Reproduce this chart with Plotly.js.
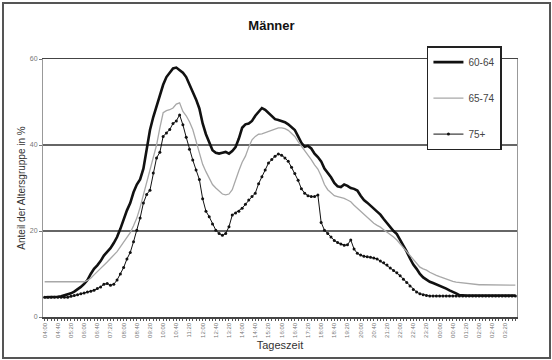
<!DOCTYPE html>
<html>
<head>
<meta charset="utf-8">
<script src="https://cdn.plot.ly/plotly-3.0.1.min.js"></script>
<style>
  html, body { margin: 0; padding: 0; background: #ffffff; }
  #wrap { position: relative; width: 552px; height: 360px; }
  #chart { position: absolute; left: 0; top: 0; width: 552px; height: 360px; }
  #frame { position: absolute; left: 2px; top: 2px; width: 545px; height: 353px; border: 2px solid #555; pointer-events: none; }
</style>
</head>
<body>
<div id="wrap"><div id="chart"></div><div id="frame"></div></div>
<script>
// Series names
const seriesNames = ["60-64", "65-74", "75+"];

// 60-64 (percent), 10-minute steps from 04:00
const men6064 = [
  4.6, 4.6, 4.6, 4.6, 4.7, 4.8, 5.0, 5.2, 5.5, 5.9,
  6.4, 7.0, 7.7, 8.6, 10.0, 11.2, 12.0, 13.0, 14.3, 15.2,
  16.0, 17.2, 18.6, 20.5, 22.8, 24.8, 26.5, 29.0, 30.8, 32.0,
  34.5, 39.0, 43.5, 46.5, 49.0, 51.5, 54.0, 55.8, 56.8, 57.8,
  58.0, 57.5, 56.8, 55.8, 54.2, 52.5, 50.6, 48.5, 45.0, 42.5,
  40.5, 38.8, 38.2, 38.0, 38.2, 38.4, 38.0, 38.6, 39.5, 41.5,
  44.0, 44.8, 45.0, 45.6, 46.8, 47.6, 48.6, 48.2, 47.4, 46.6,
  46.0, 45.8, 45.6, 45.3, 44.8, 44.2, 43.5, 42.0, 40.5, 39.6,
  39.8, 39.2, 38.0, 37.2, 36.2, 34.5, 33.5, 32.5, 31.2, 30.4,
  30.2, 30.8, 30.5, 30.0, 29.8, 29.4, 28.2, 27.2, 26.6, 25.8,
  25.2, 24.5, 23.8, 22.8, 21.8, 20.8, 20.0, 19.3, 18.0, 16.5,
  15.2, 13.6, 12.2, 11.2, 10.0, 9.2, 8.6, 8.2, 7.9, 7.6,
  7.3, 7.0, 6.6, 6.2, 5.9, 5.5, 5.1, 5.0, 5.0, 5.0,
  5.0, 5.0, 5.0, 5.0, 5.0, 5.0, 5.0, 5.0, 5.0, 5.0,
  5.0, 5.0, 5.0, 5.0
];

// 65-74 (percent)
const men6574 = [
  8.2, 8.2, 8.2, 8.2, 8.2, 8.2, 8.2, 8.2, 8.2, 8.2,
  8.2, 8.2, 8.2, 8.5, 9.0, 9.8, 10.5, 11.2, 12.0, 12.8,
  13.6, 14.4, 15.2, 16.3, 17.4, 18.4, 19.6, 21.2, 23.0, 25.5,
  28.5, 31.0, 34.0, 37.0, 40.0, 44.0, 47.5, 48.0, 48.2, 48.6,
  49.5, 49.8, 47.8, 46.8, 45.4, 43.6, 41.0, 38.0, 35.5, 33.8,
  32.2, 30.8, 30.0, 29.2, 28.6, 28.4, 28.6, 29.6, 32.0, 34.0,
  36.0, 37.4, 39.5, 41.2, 42.0, 42.5, 42.6, 42.9, 43.1, 43.4,
  43.7, 44.0, 44.0, 43.8, 43.4, 42.8, 42.0, 40.8, 39.8, 38.6,
  37.8, 36.6, 35.4, 34.4, 32.8, 30.8, 29.6, 29.0, 28.2, 28.0,
  27.8, 27.6, 27.2, 26.8, 26.0, 25.3, 24.6, 23.8, 23.0, 22.4,
  21.8, 21.3, 20.9, 20.3, 19.8, 19.2, 18.6, 17.9, 17.0, 16.0,
  15.2, 14.2, 13.2, 12.3, 11.6, 11.2, 10.9, 10.4, 10.0, 9.7,
  9.4, 9.1, 8.8, 8.5, 8.3, 8.1, 8.0, 7.9, 7.8, 7.7,
  7.6, 7.6, 7.5, 7.5, 7.5, 7.4, 7.4, 7.4, 7.4, 7.4,
  7.4, 7.4, 7.4, 7.4
];

// 75+ (percent)
const men75 = [
  4.6, 4.6, 4.6, 4.6, 4.6, 4.6, 4.6, 4.6, 4.8, 5.0,
  5.2, 5.4, 5.6, 5.8, 6.0, 6.2, 6.6, 7.0, 7.6, 7.8,
  7.4, 7.6, 8.6, 10.0, 11.5, 13.5, 15.0, 17.5, 20.2, 23.0,
  26.5, 28.5, 29.5, 33.5, 37.0, 38.3, 42.0, 42.8, 43.6, 45.0,
  45.6, 47.0, 44.7, 41.8, 39.0, 36.5, 34.2, 32.0, 27.5, 24.6,
  23.3, 21.6, 20.2, 19.4, 19.0, 19.4, 21.0, 23.7, 24.2, 24.6,
  25.3, 26.2, 27.2, 28.0, 28.8, 31.0, 32.6, 34.2, 35.8, 36.6,
  37.4, 37.9, 37.6, 37.0, 36.2, 34.8, 33.4, 31.8, 29.8, 28.8,
  28.2, 28.0, 28.0, 28.4, 22.0, 20.2, 19.4, 18.6, 17.8, 17.3,
  17.0, 16.7, 16.8, 17.9, 15.8, 14.8, 14.4, 14.1, 14.0, 13.9,
  13.7, 13.5, 13.0, 12.6, 12.1, 11.4, 10.8, 10.3, 9.6, 8.8,
  8.0, 7.2, 6.4, 5.8, 5.4, 5.2, 5.0, 4.9, 4.9, 4.9,
  4.9, 4.9, 4.9, 4.9, 4.9, 4.9, 4.9, 4.9, 4.9, 4.9,
  4.9, 4.9, 4.9, 4.9, 4.9, 4.9, 4.9, 4.9, 4.9, 4.9,
  4.9, 4.9, 4.9, 4.9
];

// Category labels: time of day, 10-minute steps starting 04:00
const times = [];
for (let k = 0; k < men6064.length; k++) {
  const m = (240 + 10 * k) % 1440;
  const hh = String(Math.floor(m / 60)).padStart(2, "0");
  const mm = String(m % 60).padStart(2, "0");
  times.push(hh + ":" + mm);
}
// Shown tick labels every 40 minutes
const tickText = times.map((t, k) => (k % 4 === 0 ? t : ""));

const FONT = "Liberation Sans, Arial, sans-serif";

const traces = [
  { x: times, y: men6064, name: seriesNames[0], type: "scatter", mode: "lines",
    line: { color: "#111111", width: 2.6 }, legendgroup: "a" },
  { x: times, y: men6574, name: seriesNames[1], type: "scatter", mode: "lines",
    line: { color: "#a8a8a8", width: 1.3 }, legendgroup: "b" },
  { x: times, y: men75, name: seriesNames[2], type: "scatter", mode: "lines+markers",
    line: { color: "#111111", width: 1 }, marker: { color: "#111111", size: 3 }, legendgroup: "c" }
];

const layout = {
  width: 552, height: 360,
  margin: { l: 43, r: 35, t: 59, b: 43 },
  paper_bgcolor: "#ffffff", plot_bgcolor: "#ffffff",
  font: { family: FONT, color: "#222" },
  showlegend: true,
  title: { text: "<b>Männer</b>", font: { size: 13, family: FONT, color: "#111" },
           x: 0.482, xanchor: "center", xref: "paper", y: 0.93, yanchor: "middle" },
  xaxis: {
    type: "category",
    tickvals: times, ticktext: tickText,
    tickangle: -90, tickfont: { size: 6, color: "#777" },
    ticks: "outside", ticklen: 2, tickcolor: "#555", tickwidth: 1,
    showgrid: false, zeroline: false,
    showline: true, linecolor: "#444", linewidth: 1.5, mirror: true,
    range: [-0.5, times.length - 0.5],
    title: { text: "Tageszeit", font: { size: 11, color: "#333" }, standoff: 4 }
  },
  yaxis: {
    range: [0, 60], tickvals: [0, 20, 40, 60],
    tickfont: { size: 7, color: "#777" },
    ticks: "outside", ticklen: 3, tickcolor: "#777",
    showgrid: true, gridcolor: "#666", gridwidth: 1.2,
    zeroline: false,
    showline: true, linecolor: "#999", linewidth: 1, mirror: true,
    title: { text: "Anteil der Altersgruppe in %", font: { size: 10, color: "#333" }, standoff: 2 }
  },
  legend: {
    x: 0.81, y: 1.05, xanchor: "left", yanchor: "top",
    bgcolor: "#ffffff", bordercolor: "#222", borderwidth: 1.5,
    font: { size: 10, color: "#444" }, tracegroupgap: 17,
    itemwidth: 30
  }
};

Plotly.newPlot("chart", traces, layout, { displayModeBar: false, staticPlot: true });
</script>
</body>
</html>
